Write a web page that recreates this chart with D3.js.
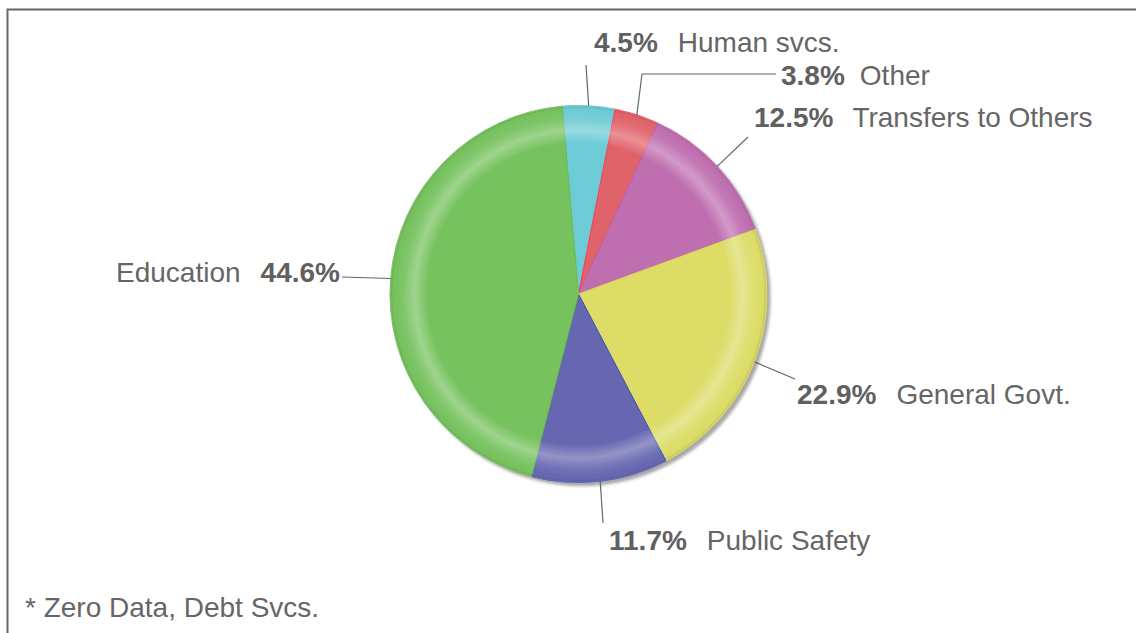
<!DOCTYPE html>
<html>
<head>
<meta charset="utf-8">
<script src="https://cdn.jsdelivr.net/npm/d3@7/dist/d3.min.js"></script>
<style>
  html, body { margin: 0; padding: 0; background: #fff; }
  svg { display: block; }
</style>
</head>
<body>
<svg id="chart" width="1136" height="633"></svg>
<script>
// ---- data ----
const categories = ["Human svcs.", "Other", "Transfers to Others", "General Govt.", "Public Safety", "Education"];
const values = [4.5, 3.8, 12.5, 22.9, 11.7, 44.6];
const colors = ["#6dcbd5", "#e0636a", "#bf6fb0", "#dcdc66", "#6767b1", "#76c25e"];
const strokeColors = ["#5cc4d0", "#ff3a5c", "#c060b0", "#d8d850", "#3a4ac0", "#6cbc50"];
const footnote = "* Zero Data, Debt Svcs.";

// ---- layout (label placement, not data) ----
const labelLayout = [
  { pts: [[586, 65]], tx: 594, ty: 52, pctFirst: true, gap: 20 },
  { pts: [[642, 74], [776, 74]], tx: 781, ty: 85, pctFirst: true, gap: 15 },
  { pts: [[748, 137]], tx: 754, ty: 127, pctFirst: true, gap: 19 },
  { pts: [[795, 379]], tx: 797, ty: 404, pctFirst: true, gap: 20 },
  { pts: [[603, 523]], tx: 609, ty: 550, pctFirst: true, gap: 20 },
  { pts: [[342, 277]], tx: 340, ty: 282, pctFirst: false, gap: 20 }
];

const svg = d3.select("#chart");
const cx = 578.5, cy = 294, R = 188.5;
const startDeg = -5;
const fontFamily = "'Liberation Sans', Arial, Helvetica, sans-serif";
const fontSize = 28;

// frame
svg.append("path")
  .attr("d", "M7.5,633 V9.5 H1136")
  .attr("fill", "none").attr("stroke", "#666").attr("stroke-width", 2);

const defs = svg.append("defs");
const blur = defs.append("filter").attr("id", "shadowBlur")
  .attr("x", "-10%").attr("y", "-10%").attr("width", "120%").attr("height", "120%");
blur.append("feGaussianBlur").attr("stdDeviation", 1.5);

const rg = defs.append("radialGradient").attr("id", "bevel")
  .attr("cx", "50%").attr("cy", "50%").attr("r", "50%");
[[0, "#fff", 0], [0.8, "#fff", 0], [0.87, "#fff", 0.3], [0.93, "#fff", 0.07],
 [0.975, "#fff", 0], [0.99, "#000", 0.06], [1, "#fff", 0.25]].forEach(s => {
  rg.append("stop").attr("offset", s[0]).attr("stop-color", s[1]).attr("stop-opacity", s[2]);
});

const g = svg.append("g").attr("transform", `translate(${cx},${cy})`);

// drop shadow
g.append("circle").attr("cx", 3.5).attr("cy", 3.5).attr("r", R)
  .attr("fill", "#a8a8a8").attr("filter", "url(#shadowBlur)");

const pie = d3.pie().sort(null)
  .startAngle(startDeg * Math.PI / 180)
  .endAngle(startDeg * Math.PI / 180 + 2 * Math.PI)
  .value(d => d);
const arcs = pie(values);
const arc = d3.arc().innerRadius(0).outerRadius(R);

g.selectAll("path.slice").data(arcs).enter().append("path")
  .attr("class", "slice")
  .attr("d", arc)
  .attr("fill", (d, i) => colors[i])
  .attr("stroke", (d, i) => strokeColors[i])
  .attr("stroke-width", 1)
  .attr("stroke-linejoin", "round");

// bevel overlay
g.append("circle").attr("r", R).attr("fill", "url(#bevel)").attr("pointer-events", "none");

// leader lines and labels
const labels = svg.append("g");
arcs.forEach((a, i) => {
  const mid = (a.startAngle + a.endAngle) / 2;
  const sx = cx + R * Math.sin(mid), sy = cy - R * Math.cos(mid);
  const L = labelLayout[i];
  const pts = [[sx, sy]].concat(L.pts);
  labels.append("path")
    .attr("d", d3.line()(pts))
    .attr("fill", "none").attr("stroke", "#666").attr("stroke-width", 1.2);

  const pctText = values[i].toFixed(1) + "%";
  const t = labels.append("text")
    .attr("y", L.ty)
    .attr("font-family", fontFamily)
    .attr("font-size", fontSize);
  if (L.pctFirst) {
    t.attr("x", L.tx);
    t.append("tspan").attr("font-weight", "bold").attr("fill", "#606060").text(pctText);
    t.append("tspan").attr("dx", L.gap).attr("fill", "#666").text(categories[i]);
  } else {
    t.attr("x", L.tx).attr("text-anchor", "end");
    t.append("tspan").attr("fill", "#666").text(categories[i]);
    t.append("tspan").attr("dx", L.gap).attr("font-weight", "bold").attr("fill", "#606060").text(pctText);
  }
});

// footnote
svg.append("text")
  .attr("x", 25).attr("y", 617)
  .attr("font-family", fontFamily).attr("font-size", fontSize)
  .attr("fill", "#666").text(footnote);
</script>
</body>
</html>
